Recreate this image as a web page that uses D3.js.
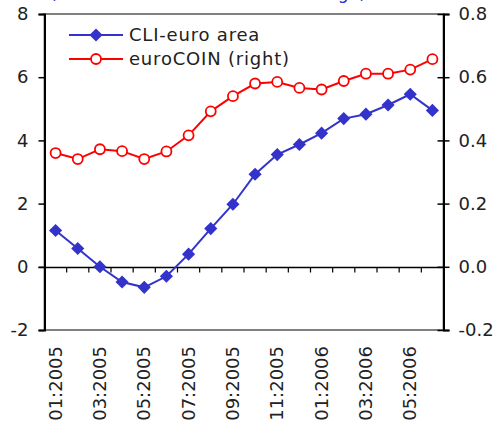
<!DOCTYPE html>
<html>
<head>
<meta charset="utf-8">
<script src="https://cdn.jsdelivr.net/npm/d3@7"></script>
<style>
  html, body { margin: 0; padding: 0; background: #fff; }
  svg { display: block; }
  text { font-family: "DejaVu Sans", sans-serif; fill: #222; }
</style>
</head>
<body>
<svg id="chart" width="496" height="427"></svg>
<script>
const months = ["01:2005","02:2005","03:2005","04:2005","05:2005","06:2005","07:2005","08:2005","09:2005","10:2005","11:2005","12:2005","01:2006","02:2006","03:2006","04:2006","05:2006","06:2006"];
const cli = [1.15, 0.58, 0.0, -0.48, -0.65, -0.30, 0.40, 1.21, 1.98, 2.93, 3.55, 3.87, 4.23, 4.69, 4.83, 5.12, 5.46, 4.95];
const euroCoin = [0.360, 0.341, 0.372, 0.366, 0.341, 0.365, 0.416, 0.492, 0.540, 0.580, 0.585, 0.566, 0.561, 0.588, 0.611, 0.611, 0.624, 0.657];
const leftTicks = [-2, 0, 2, 4, 6, 8];
const rightTicks = [-0.2, 0.0, 0.2, 0.4, 0.6, 0.8];
const xLabels = ["01:2005","03:2005","05:2005","07:2005","09:2005","11:2005","01:2006","03:2006","05:2006"];
const seriesNames = ["CLI-euro area", "euroCOIN (right)"];
const titleText = "(annualised 6-month rate of change)";

const blue = "#3333cc", red = "#ff0000";
const svg = d3.select("#chart");
const L = 44.5, R = 443.5, T = 14, B = 330;

const x = d3.scaleBand().domain(months).range([L, R]);
const cx = d => x(d) + x.bandwidth() / 2;
const yL = d3.scaleLinear().domain([-2, 8]).range([B, T]);
const yR = d3.scaleLinear().domain([-0.2, 0.8]).range([B, T]);

// cut-off title (only descenders visible, as in the reference)
svg.append("text").attr("x", 50).attr("y", -1)
  .attr("textLength", 316).attr("lengthAdjust", "spacingAndGlyphs")
  .style("font-size", "18px").style("fill", blue).text(titleText);

// plot frame
svg.append("rect").attr("x", L).attr("y", T).attr("width", R - L).attr("height", B - T)
  .attr("fill", "none").attr("stroke", "#808080").attr("stroke-width", 2);

const fmtL = d => String(d);
const fmtR = d => d3.format(".1f")(d).replace("\u2212", "-");

// left axis
const gL = svg.append("g").attr("transform", `translate(${L},0)`)
  .call(d3.axisLeft(yL).tickValues(leftTicks).tickSize(6).tickPadding(10).tickFormat(fmtL));
gL.select(".domain").attr("stroke", "#000").attr("stroke-width", 2);
gL.selectAll(".tick line").attr("stroke", "#000").attr("stroke-width", 1.5);
gL.selectAll(".tick text").style("font-size", "18px").style("font-family", "DejaVu Sans").attr("fill", "#222");

// right axis
const gR = svg.append("g").attr("transform", `translate(${R},0)`)
  .call(d3.axisRight(yR).tickValues(rightTicks).tickSize(6).tickPadding(9).tickFormat(fmtR));
gR.select(".domain").attr("stroke", "#000").attr("stroke-width", 2);
gR.selectAll(".tick line").attr("x1", -6).attr("stroke", "#000").attr("stroke-width", 1.5);
gR.selectAll(".tick text").style("font-size", "18px").style("font-family", "DejaVu Sans").attr("fill", "#222");

// zero line with category ticks
const y0 = Math.round(yL(0)) + 0.5;
svg.append("line").attr("x1", L - 6).attr("x2", R).attr("y1", y0).attr("y2", y0)
  .attr("stroke", "#000").attr("stroke-width", 1.5);
svg.append("g").selectAll("line").data(months.slice(1)).join("line")
  .attr("x1", d => x(d)).attr("x2", d => x(d)).attr("y1", y0).attr("y2", y0 + 5)
  .attr("stroke", "#000").attr("stroke-width", 1.2);

// x labels
svg.append("g").selectAll("text").data(xLabels).join("text")
  .attr("transform", d => `translate(${cx(d) + 6},346) rotate(-90)`)
  .attr("text-anchor", "end")
  .style("font-size", "18px").text(d => d);

// series
const diamond = d3.symbol().type(d3.symbolDiamond2).size(110);
const lineL = d3.line().x((d, i) => cx(months[i])).y(d => yL(d));
const lineR = d3.line().x((d, i) => cx(months[i])).y(d => yR(d));

svg.append("path").attr("d", lineR(euroCoin)).attr("fill", "none").attr("stroke", red).attr("stroke-width", 2);
svg.append("g").selectAll("circle").data(euroCoin).join("circle")
  .attr("cx", (d, i) => cx(months[i])).attr("cy", d => yR(d)).attr("r", 5)
  .attr("fill", "#fff").attr("stroke", red).attr("stroke-width", 1.8);

svg.append("path").attr("d", lineL(cli)).attr("fill", "none").attr("stroke", blue).attr("stroke-width", 2);
svg.append("g").selectAll("path").data(cli).join("path")
  .attr("transform", (d, i) => `translate(${cx(months[i])},${yL(d)})`)
  .attr("d", diamond).attr("fill", blue);

// legend
const leg = svg.append("g");
const rows = [35, 59];
leg.append("line").attr("x1", 69).attr("x2", 123).attr("y1", rows[0]).attr("y2", rows[0]).attr("stroke", blue).attr("stroke-width", 2);
leg.append("path").attr("transform", `translate(96,${rows[0]})`).attr("d", diamond).attr("fill", blue);
leg.append("line").attr("x1", 69).attr("x2", 123).attr("y1", rows[1]).attr("y2", rows[1]).attr("stroke", red).attr("stroke-width", 2);
leg.append("circle").attr("cx", 96).attr("cy", rows[1]).attr("r", 5).attr("fill", "#fff").attr("stroke", red).attr("stroke-width", 1.8);
leg.selectAll("text.lg").data(seriesNames).join("text").attr("class", "lg")
  .attr("x", 129).attr("y", (d, i) => rows[i]).attr("dy", "0.35em")
  .style("font-size", "18px").style("letter-spacing", "0.8px").text(d => d);
</script>
</body>
</html>
